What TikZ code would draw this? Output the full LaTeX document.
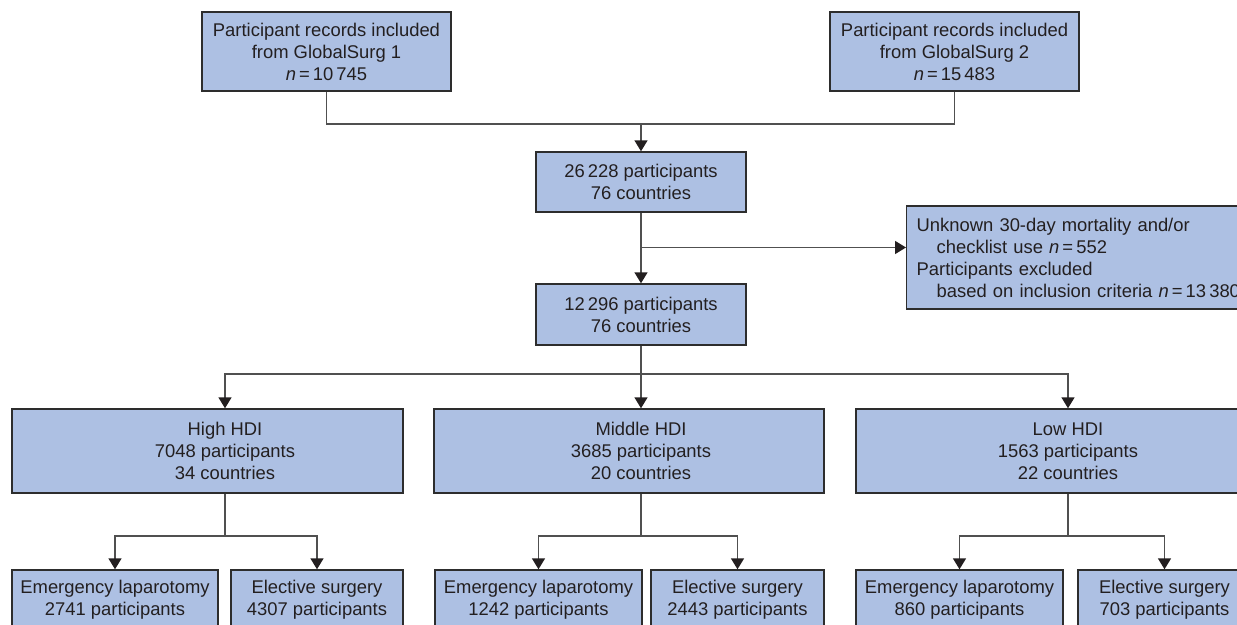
\documentclass[tikz,border=0pt]{standalone}
\usepackage{fontspec}
\setmainfont{Liberation Sans}
\usepackage{tikz}
\usetikzlibrary{arrows.meta, positioning, calc}
\definecolor{boxblue}{RGB}{173,192,227}
\definecolor{boxedge}{RGB}{45,45,45}
\definecolor{conngray}{RGB}{80,80,80}
\definecolor{inkdark}{RGB}{35,31,32}
\newcommand{\nn}[1]{\textit{n}\,=\,#1}

\begin{document}
\begin{tikzpicture}[
        x=0.5pt, y=-0.5pt, >={Triangle[width=6.5pt,length=5.5pt,color=inkdark]},
        every node/.style={font=\fontsize{9.2}{11}\selectfont, text=inkdark},
        box/.style={draw=boxedge, fill=boxblue, line width=0.7pt, inner sep=0pt, align=center},
        txt/.style={inner sep=0pt, align=center},
        conn/.style={draw=conngray, line width=0.75pt}
        ]
        \useasboundingbox (0,0) rectangle (1237,625);

        % sources
        \node[box, minimum width=124.5pt, minimum height=39.5pt] (gs1) at (326.5,51.5)
            {Participant records included\\from GlobalSurg 1\\\nn{10\,745}};
        \node[box, minimum width=124.5pt, minimum height=39.5pt] (gs2) at (954.5,51.5)
            {Participant records included\\from GlobalSurg 2\\\nn{15\,483}};

        % pooled and included
        \node[box, minimum width=105pt, minimum height=30pt] (all) at (641,182)
            {26\,228 participants\\76 countries};
        \node[box, minimum width=105pt, minimum height=30.5pt] (incl) at (641,314.5)
            {12\,296 participants\\76 countries};
        \node[box, anchor=west, align=left, text width=168pt, inner xsep=5pt, minimum height=51.5pt] (excl) at (906,257.5)
            {Unknown 30-day mortality and/or\\\hspace*{10pt}checklist use \nn{552}\\Participants excluded\\\hspace*{10pt}based on inclusion criteria \nn{13\,380}};

        % HDI groups
        \node[box, minimum width=195.5pt, minimum height=42pt] (highbox) at (207.5,451) {};
        \node[txt] (high) at (225,451) {High HDI\\7048 participants\\34 countries};
        \node[box, minimum width=195pt, minimum height=42pt] (middlebox) at (629,451) {};
        \node[txt] (middle) at (641,451) {Middle HDI\\3685 participants\\20 countries};
        \node[box, minimum width=195.5pt, minimum height=42pt] (lowbox) at (1051.5,451) {};
        \node[txt] (low) at (1068,451) {Low HDI\\1563 participants\\22 countries};

        % surgery type
        \node[box, minimum width=103pt, minimum height=30pt] (emH) at (115,600) {Emergency laparotomy\\2741 participants};
        \node[box, minimum width=86pt, minimum height=30pt] (elH) at (317,600) {Elective surgery\\4307 participants};
        \node[box, minimum width=103.5pt, minimum height=30pt] (emM) at (538.5,600) {Emergency laparotomy\\1242 participants};
        \node[box, minimum width=86.5pt, minimum height=30pt] (elM) at (737.5,600) {Elective surgery\\2443 participants};
        \node[box, minimum width=103.5pt, minimum height=30pt] (emL) at (959.5,600) {Emergency laparotomy\\860 participants};
        \node[box, minimum width=86.5pt, minimum height=30pt] (elL) at (1164.5,600) {Elective surgery\\703 participants};

        \coordinate (j1) at (641,124);
        \coordinate (j2) at (641,247.5);
        \coordinate (j3) at (641,374);
        \coordinate (bH) at (225,536);
        \coordinate (bM) at (641,536);
        \coordinate (bL) at (1068,536);

        \draw[conn] (gs1.south) |- (j1) -| (gs2.south);
        \draw[conn,->] (j1) -- (all.north);
        \draw[conn,->] (all.south) -- (incl.north);
        \draw[conn,->] (j2) -- (j2 -| excl.west);
        \draw[conn] (incl.south) -- (j3);
        \draw[conn,->] (j3) -| (high |- highbox.north);
        \draw[conn,->] (j3) -- (middle |- middlebox.north);
        \draw[conn,->] (j3) -| (low |- lowbox.north);

        \draw[conn] (high |- highbox.south) -- (bH);
        \draw[conn,->] (bH) -| (emH.north);
        \draw[conn,->] (bH) -| (elH.north);
        \draw[conn] (middle |- middlebox.south) -- (bM);
        \draw[conn,->] (bM) -| (emM.north);
        \draw[conn,->] (bM) -| (elM.north);
        \draw[conn] (low |- lowbox.south) -- (bL);
        \draw[conn,->] (bL) -| (emL.north);
        \draw[conn,->] (bL) -| (elL.north);
\end{tikzpicture}
\end{document}
